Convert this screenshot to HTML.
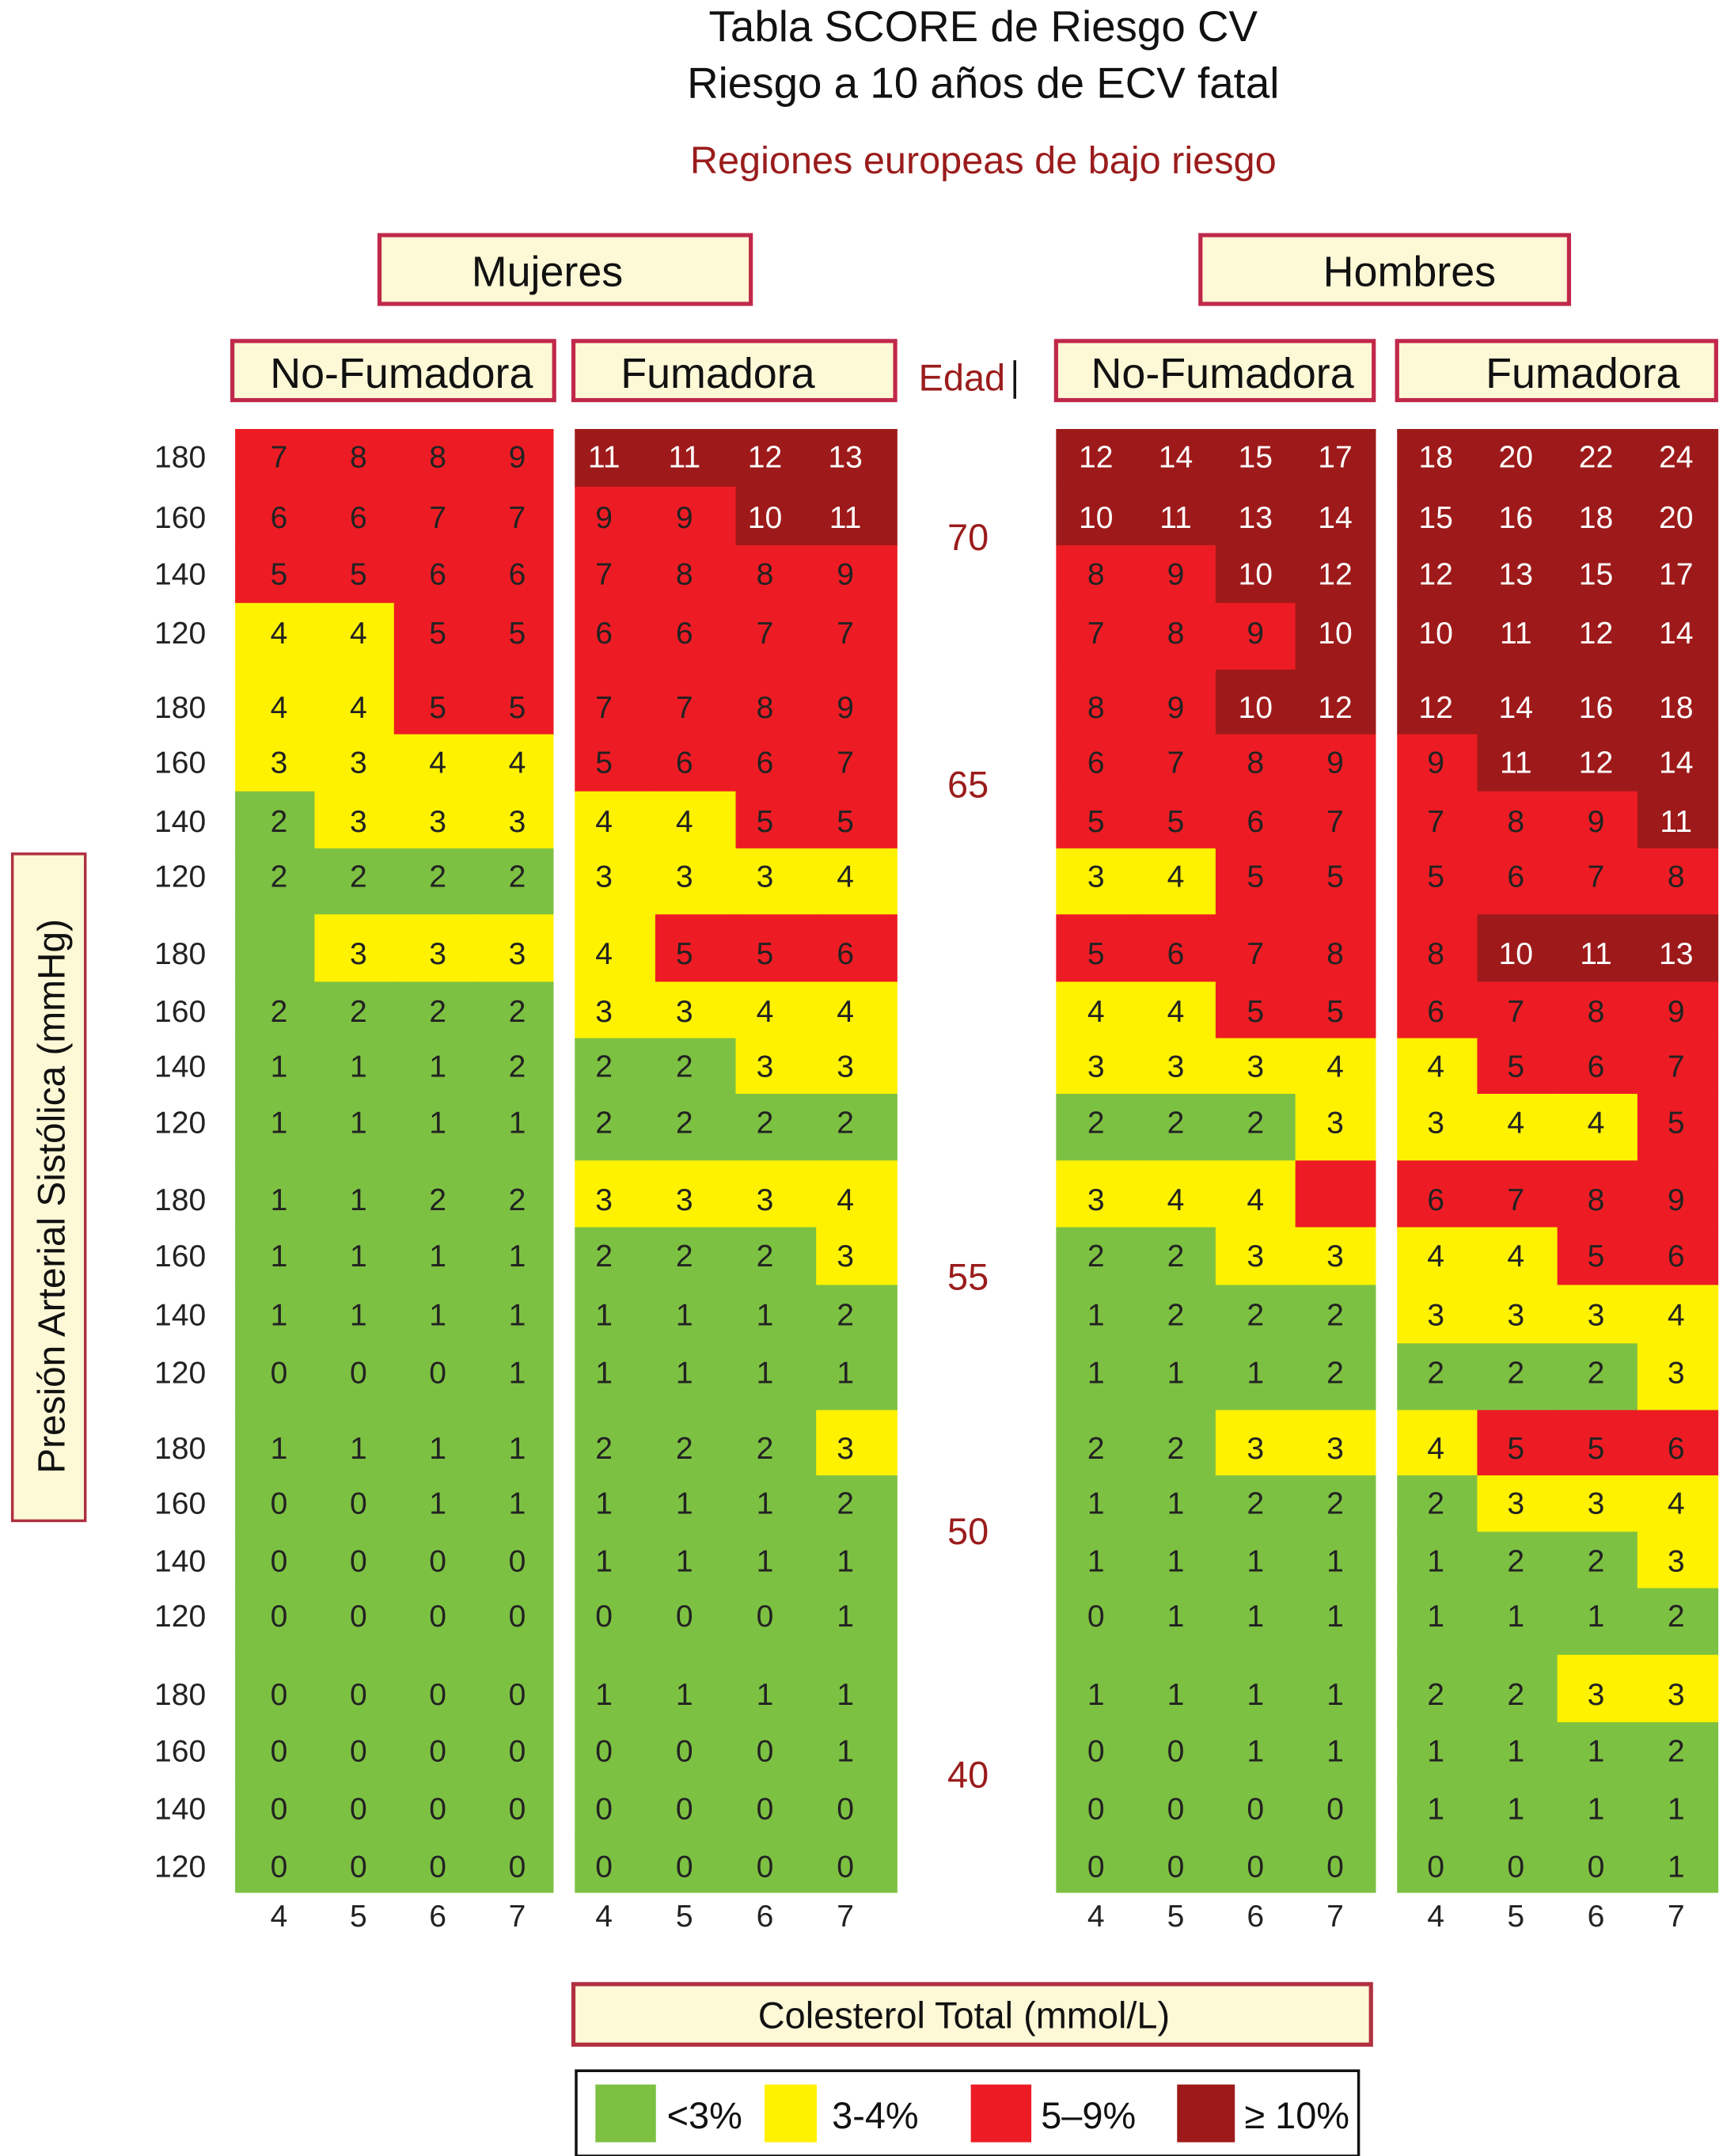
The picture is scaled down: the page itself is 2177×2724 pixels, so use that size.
<!DOCTYPE html>
<html><head><meta charset="utf-8">
<style>
html,body{margin:0;padding:0;background:#fff;}
svg{display:block;}
text{font-family:"Liberation Sans",sans-serif;}
</style></head>
<body>
<svg id="chart" width="2177" height="2724" viewBox="0 0 1253 1568" preserveAspectRatio="none" xmlns="http://www.w3.org/2000/svg">
<rect width="1253" height="1568" fill="#fff"/>
<text x="715" y="30" font-size="31.5" text-anchor="middle" fill="#111">Tabla SCORE de Riesgo CV</text>
<text x="715" y="71" font-size="31.5" text-anchor="middle" fill="#111">Riesgo a 10 años de ECV fatal</text>
<text x="715" y="126" font-size="28" text-anchor="middle" fill="#9b1c1c">Regiones europeas de bajo riesgo</text>

<g><rect x="276" y="171" width="270" height="50" fill="#fdf8d6" stroke="#c0284a" stroke-width="3"/><text x="398" y="208" font-size="31" text-anchor="middle" fill="#111">Mujeres</text></g>
<g><rect x="873" y="171" width="268" height="50" fill="#fdf8d6" stroke="#c0284a" stroke-width="3"/><text x="1025" y="208" font-size="31" text-anchor="middle" fill="#111">Hombres</text></g>

<g><rect x="169" y="248" width="234" height="43" fill="#fdf8d6" stroke="#c0284a" stroke-width="3"/><text x="292" y="282" font-size="31" text-anchor="middle" fill="#111">No-Fumadora</text></g>
<g><rect x="417" y="248" width="234" height="43" fill="#fdf8d6" stroke="#c0284a" stroke-width="3"/><text x="522" y="282" font-size="31" text-anchor="middle" fill="#111">Fumadora</text></g>
<g><rect x="768" y="248" width="231" height="43" fill="#fdf8d6" stroke="#c0284a" stroke-width="3"/><text x="889" y="282" font-size="31" text-anchor="middle" fill="#111">No-Fumadora</text></g>
<g><rect x="1016" y="248" width="232" height="43" fill="#fdf8d6" stroke="#c0284a" stroke-width="3"/><text x="1151" y="282" font-size="31" text-anchor="middle" fill="#111">Fumadora</text></g>
<text x="668" y="284" font-size="27" fill="#9b1c1c">Edad</text>
<rect x="737" y="262" width="2" height="28" fill="#111"/>

<g id="grid"></g>

<g><rect x="9" y="621" width="53" height="485" fill="#fdf8d6" stroke="#b03040" stroke-width="2"/><text transform="translate(47,870) rotate(-90)" font-size="27.5" text-anchor="middle" fill="#111">Presión Arterial Sistólica (mmHg)</text></g>
<g><rect x="417" y="1443" width="580" height="44" fill="#fdf8d6" stroke="#b03040" stroke-width="3"/><text x="701" y="1475" font-size="27" text-anchor="middle" fill="#111">Colesterol Total (mmol/L)</text></g>

<g>
<rect x="419" y="1506" width="569" height="62" fill="#fff" stroke="#111" stroke-width="2"/>
<rect x="433" y="1516" width="44" height="42" fill="#7dc142"/>
<text x="485" y="1548" font-size="27" fill="#111">&lt;3%</text>
<rect x="556" y="1516" width="38" height="42" fill="#fff200"/>
<text x="605" y="1548" font-size="27" fill="#111">3-4%</text>
<rect x="706" y="1516" width="44" height="42" fill="#ed1c24"/>
<text x="757" y="1548" font-size="27" fill="#111">5–9%</text>
<rect x="856" y="1516" width="42" height="42" fill="#9e1a1a"/>
<text x="905" y="1548" font-size="27" fill="#111">≥ 10%</text>
</g>
</svg>
<script>
const bpLabels=[180,160,140,120];
const ageLabels=["70","65","60","55","50","40"];
const showAge=[true,true,false,true,true,true];
const cholLabels=[4,5,6,7];
const womenNonSmoker=[[7,8,8,9],[6,6,7,7],[5,5,6,6],[4,4,5,5],[4,4,5,5],[3,3,4,4],[2,3,3,3],[2,2,2,2],[2,3,3,3],[2,2,2,2],[1,1,1,2],[1,1,1,1],[1,1,2,2],[1,1,1,1],[1,1,1,1],[0,0,0,1],[1,1,1,1],[0,0,1,1],[0,0,0,0],[0,0,0,0],[0,0,0,0],[0,0,0,0],[0,0,0,0],[0,0,0,0]];
const womenSmoker=[[11,11,12,13],[9,9,10,11],[7,8,8,9],[6,6,7,7],[7,7,8,9],[5,6,6,7],[4,4,5,5],[3,3,3,4],[4,5,5,6],[3,3,4,4],[2,2,3,3],[2,2,2,2],[3,3,3,4],[2,2,2,3],[1,1,1,2],[1,1,1,1],[2,2,2,3],[1,1,1,2],[1,1,1,1],[0,0,0,1],[1,1,1,1],[0,0,0,1],[0,0,0,0],[0,0,0,0]];
const menNonSmoker=[[12,14,15,17],[10,11,13,14],[8,9,10,12],[7,8,9,10],[8,9,10,12],[6,7,8,9],[5,5,6,7],[3,4,5,5],[5,6,7,8],[4,4,5,5],[3,3,3,4],[2,2,2,3],[3,4,4,5],[2,2,3,3],[1,2,2,2],[1,1,1,2],[2,2,3,3],[1,1,2,2],[1,1,1,1],[0,1,1,1],[1,1,1,1],[0,0,1,1],[0,0,0,0],[0,0,0,0]];
const menSmoker=[[18,20,22,24],[15,16,18,20],[12,13,15,17],[10,11,12,14],[12,14,16,18],[9,11,12,14],[7,8,9,11],[5,6,7,8],[8,10,11,13],[6,7,8,9],[4,5,6,7],[3,4,4,5],[6,7,8,9],[4,4,5,6],[3,3,3,4],[2,2,2,3],[4,5,5,6],[2,3,3,4],[1,2,2,3],[1,1,1,2],[2,2,3,3],[1,1,1,2],[1,1,1,1],[0,0,0,1]];
const hiddenCells=[[0,8,0],[2,12,3]];
const panels=[womenNonSmoker,womenSmoker,menNonSmoker,menSmoker];
const panelX=[[171,402],[418,652],[768,1000],[1016,1249]];
const labelShift=[3,-8,0,-1];
const rowCenters=[332,376,417,460,514,554,597,637,693,735,775,816,872,913,956,998,1053,1093,1135,1175,1232,1273,1315,1357];
const ageY=[390,570,0,928,1113,1290];
const gridTop=312,gridBottom=1376;
function rowEdge(i){ if(i===0) return gridTop; if(i===rowCenters.length) return gridBottom; return (rowCenters[i-1]+rowCenters[i])/2; }
function colX(p,c){const a=panelX[p][0],b=panelX[p][1];return a+(b-a)*c/4;}
function color(v){return v<3?"#7dc142":v<5?"#fff200":v<10?"#ed1c24":"#9e1a1a";}
const NS="http://www.w3.org/2000/svg";
const g=document.getElementById("grid");
function mk(tag,attrs){const e=document.createElementNS(NS,tag);for(const k in attrs)e.setAttribute(k,attrs[k]);g.appendChild(e);return e;}
panels.forEach((data,p)=>{
  data.forEach((row,r)=>{
    row.forEach((v,c)=>{
      const x0=colX(p,c),x1=colX(p,c+1),y0=rowEdge(r),y1=rowEdge(r+1);
      const rect=mk("rect",{x:x0,y:y0,width:x1-x0+0.6,height:y1-y0+0.6,fill:color(v)});
      
      
      const hidden=hiddenCells.some(h=>h[0]===p&&h[1]===r&&h[2]===c);
      if(!hidden){
        const t=mk("text",{x:(x0+x1)/2+labelShift[p],y:rowCenters[r]+8,"font-size":22.5,"text-anchor":"middle",fill:v>=10?"#fff":"#222"});
        t.textContent=v;
        
        
      }
    });
  });
  cholLabels.forEach((l,c)=>{
    const t=mk("text",{x:(colX(p,c)+colX(p,c+1))/2+labelShift[p],y:1401,"font-size":22.5,"text-anchor":"middle",fill:"#222"});
    t.textContent=l;
    
    
  });
});
rowCenters.forEach((y,r)=>{
  const t=mk("text",{x:131,y:y+8,"font-size":22.5,"text-anchor":"middle",fill:"#222"});
  t.textContent=bpLabels[r%4];
  
  
});
ageLabels.forEach((a,i)=>{
  if(!showAge[i])return;
  const t=mk("text",{x:704,y:ageY[i]+10,"font-size":27,"text-anchor":"middle",fill:"#9b1c1c"});
  t.textContent=a;
  
  
});
</script>
</body></html>
